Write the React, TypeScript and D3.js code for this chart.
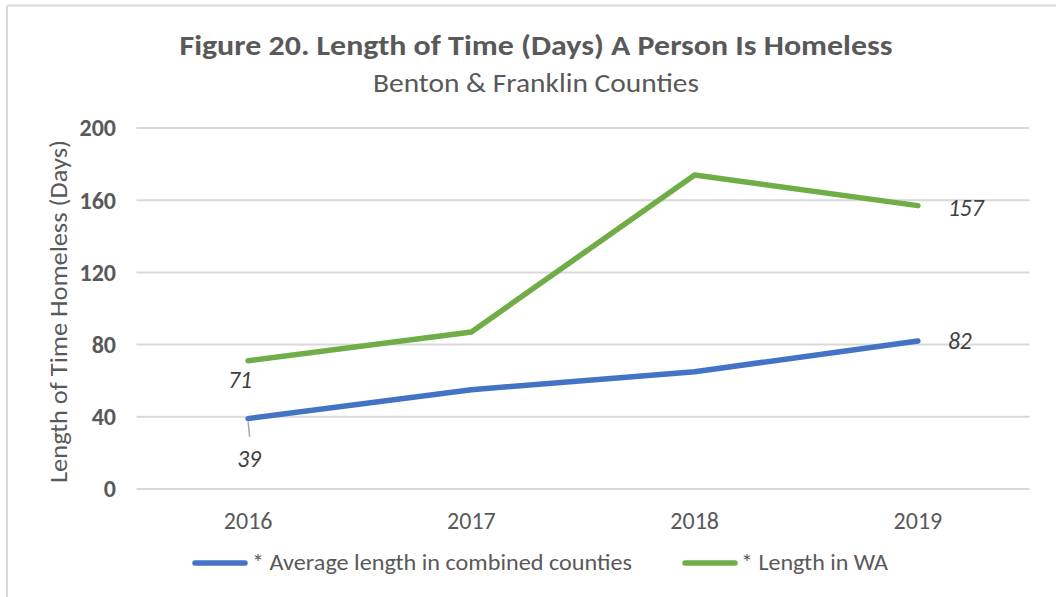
import React from "react";
import * as d3 from "d3";

const years = ["2016", "2017", "2018", "2019"];
const avgCombined = [39, 55, 65, 82];
const lengthWA = [71, 87, 174, 157];
const yTicks = [0, 40, 80, 120, 160, 200];
const seriesNames = ["* Average length in combined counties", "* Length in WA"];
const colors = ["#4472C4", "#70AD47"];

const FONT = "Carlito, 'Liberation Sans Narrow', 'Open Sans', sans-serif";

export default function App() {
  const W = 1056, H = 597;
  const x = d3.scalePoint<string>().domain(years).range([136.5, 1029.5]).padding(0.5);
  const y = d3.scaleLinear().domain([0, 200]).range([489, 128]);
  const line = d3.line<number>().x((_, i) => x(years[i]) as number).y((d) => y(d));
  const txt = "#595959";

  const last = years.length - 1;
  return (
    <svg width={W} height={H} style={{ position: "absolute", left: 0, top: 0, background: "#fff" }} fontFamily={FONT}>
      <rect x={0} y={0} width={W} height={H} fill="#fff" />
      {/* border */}
      <line x1={7} y1={5.5} x2={W} y2={5.5} stroke="#d9d9d9" strokeWidth={2} />
      <line x1={7} y1={5.5} x2={7} y2={H} stroke="#d9d9d9" strokeWidth={2} />

      {/* title */}
      <text x={536} y={55} textAnchor="middle" fontSize={28} fontWeight="bold" fill={txt}
        textLength={713} lengthAdjust="spacingAndGlyphs">
        Figure 20. Length of Time (Days) A Person Is Homeless
      </text>
      <text x={536} y={92} textAnchor="middle" fontSize={26} fill={txt}
        textLength={326} lengthAdjust="spacingAndGlyphs">
        Benton &amp; Franklin Counties
      </text>

      {/* gridlines */}
      {yTicks.map((t) => (
        <line key={t} x1={136.5} x2={1029.5} y1={y(t)} y2={y(t)} stroke="#d9d9d9" strokeWidth={2} />
      ))}
      {/* y tick labels */}
      {yTicks.map((t) => (
        <text key={t} x={116} y={y(t)} dy="0.35em" textAnchor="end" fontSize={24} fontWeight="bold" fill={txt}>
          {t}
        </text>
      ))}
      {/* y axis title */}
      <text transform={`translate(67,${(128 + 489) / 2 + 3}) rotate(-90)`} textAnchor="middle" fontSize={25} fill={txt}
        textLength={343} lengthAdjust="spacingAndGlyphs">
        Length of Time Homeless (Days)
      </text>
      {/* x labels */}
      {years.map((yr) => (
        <text key={yr} x={x(yr)} y={521} dy="0.35em" textAnchor="middle" fontSize={24} fill={txt}>
          {yr}
        </text>
      ))}

      {/* leader line for 39 */}
      <line x1={x(years[0])} y1={y(avgCombined[0]) + 3} x2={(x(years[0]) as number) + 1.5} y2={y(avgCombined[0]) + 18}
        stroke="#a6a6a6" strokeWidth={1.5} />

      {/* series */}
      {[avgCombined, lengthWA].map((s, i) => (
        <path key={i} d={line(s) as string} fill="none" stroke={colors[i]} strokeWidth={5.5}
          strokeLinecap="round" strokeLinejoin="round" />
      ))}

      {/* data labels */}
      <text x={(x(years[0]) as number) - 8} y={y(lengthWA[0]) + 19} dy="0.35em" textAnchor="middle" fontSize={23.5}
        fontStyle="italic" fill="#404040">{lengthWA[0]}</text>
      <text x={(x(years[0]) as number) + 1} y={y(avgCombined[0]) + 40} dy="0.35em" textAnchor="middle" fontSize={23.5}
        fontStyle="italic" fill="#404040">{avgCombined[0]}</text>
      <text x={(x(years[last]) as number) + 30} y={y(lengthWA[last]) + 2} dy="0.35em" textAnchor="start" fontSize={23.5}
        fontStyle="italic" fill="#404040">{lengthWA[last]}</text>
      <text x={(x(years[last]) as number) + 30} y={y(avgCombined[last])} dy="0.35em" textAnchor="start" fontSize={23.5}
        fontStyle="italic" fill="#404040">{avgCombined[last]}</text>

      {/* legend */}
      <line x1={195} x2={245} y1={563} y2={563} stroke={colors[0]} strokeWidth={5.5} strokeLinecap="round" />
      <text x={252} y={562} dy="0.35em" fontSize={23} fill={txt} textLength={380} lengthAdjust="spacingAndGlyphs">
        {seriesNames[0]}
      </text>
      <line x1={685} x2={735} y1={563} y2={563} stroke={colors[1]} strokeWidth={5.5} strokeLinecap="round" />
      <text x={741} y={562} dy="0.35em" fontSize={23} fill={txt} textLength={147} lengthAdjust="spacingAndGlyphs">
        {seriesNames[1]}
      </text>
    </svg>
  );
}
